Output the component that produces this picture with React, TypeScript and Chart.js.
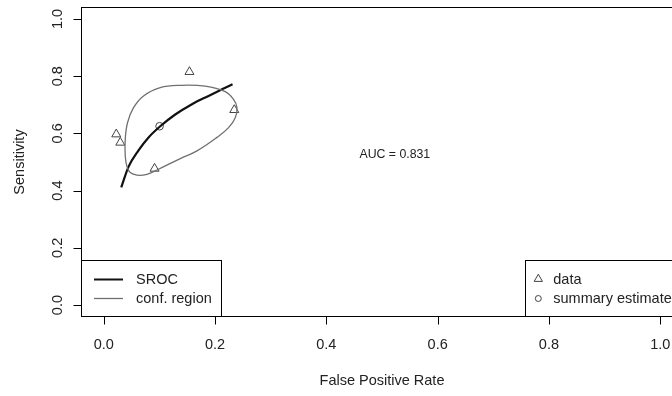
import React, { useEffect, useRef } from "react";
import { Chart, registerables } from "chart.js";

Chart.register(...registerables);

// ---- data ----
const X_TICKS = [0, 0.2, 0.4, 0.6, 0.8, 1.0];
const X_TICK_LABELS = ["0.0", "0.2", "0.4", "0.6", "0.8", "1.0"];
const Y_TICKS = [0, 0.2, 0.4, 0.6, 0.8, 1.0];
const Y_TICK_LABELS = ["0.0", "0.2", "0.4", "0.6", "0.8", "1.0"];

const DATA_FPR = [0.154, 0.2345, 0.0225, 0.0297, 0.0913];
const DATA_SENS = [0.815, 0.682, 0.597, 0.568, 0.477];

const SUMMARY_FPR = [0.1003];
const SUMMARY_SENS = [0.625];

const SROC_FPR = [0.0314, 0.0446, 0.0625, 0.0805, 0.1015, 0.1285, 0.1585, 0.1883, 0.2124, 0.2314];
const SROC_SENS = [0.411, 0.484, 0.541, 0.586, 0.625, 0.666, 0.702, 0.731, 0.754, 0.772];

// closed loop (first point not repeated)
const REGION_FPR = [0.1675, 0.1375, 0.0956, 0.0776, 0.0597, 0.0476, 0.0417, 0.0386, 0.0386, 0.0428, 0.0535, 0.0715, 0.1015, 0.1375, 0.1824, 0.2183, 0.2332, 0.2394, 0.2363, 0.2243, 0.2034];
const REGION_SENS = [0.539, 0.512, 0.472, 0.457, 0.454, 0.463, 0.484, 0.521, 0.58, 0.638, 0.69, 0.731, 0.76, 0.768, 0.765, 0.746, 0.719, 0.69, 0.655, 0.62, 0.586];

const AUC_TEXT = "AUC = 0.831";
const AUC_POS = [0.523, 0.525];
const X_TITLE = "False Positive Rate";
const Y_TITLE = "Sensitivity";
const LEFT_LEGEND = ["SROC", "conf. region"];
const RIGHT_LEGEND = ["data", "summary estimate"];

const zip = (xs: number[], ys: number[]) => xs.map((x, i) => ({ x, y: ys[i] }));

// wrap the loop so the spline is smooth where it closes
const loopPts = zip(REGION_FPR, REGION_SENS);
const M = loopPts.length;
const wrappedLoop = [loopPts[M - 1], ...loopPts, loopPts[0], loopPts[1]];

const FONT = '"Liberation Sans", Arial, Helvetica, sans-serif';
const TEXT_COLOR = "#222";
const SROC_COLOR = "#111";
const REGION_COLOR = "#707070";
const POINT_COLOR = "#444";

const decorPlugin = {
  id: "rdecor",
  beforeDraw(chart: any) {
    const ctx = chart.ctx;
    ctx.save();
    ctx.fillStyle = "#fff";
    ctx.fillRect(0, 0, chart.width, chart.height);
    ctx.restore();
  },
  afterDraw(chart: any) {
    const ctx = chart.ctx as CanvasRenderingContext2D;
    const { left, top, right, bottom } = chart.chartArea;
    const xs = chart.scales.x;
    const ys = chart.scales.y;
    ctx.save();
    ctx.strokeStyle = "#000";
    ctx.lineWidth = 1;
    // box
    ctx.strokeRect(left, top, right - left, bottom - top);

    // x axis
    const x0 = xs.getPixelForValue(X_TICKS[0]);
    const x1 = xs.getPixelForValue(X_TICKS[X_TICKS.length - 1]);
    ctx.beginPath();
    ctx.moveTo(x0, bottom);
    ctx.lineTo(x1, bottom);
    X_TICKS.forEach((t) => {
      const px = Math.round(xs.getPixelForValue(t)) + 0.5;
      ctx.moveTo(px, bottom);
      ctx.lineTo(px, bottom + 8);
    });
    // y axis
    const y0 = ys.getPixelForValue(Y_TICKS[0]);
    const y1 = ys.getPixelForValue(Y_TICKS[Y_TICKS.length - 1]);
    ctx.moveTo(left, y0);
    ctx.lineTo(left, y1);
    Y_TICKS.forEach((t) => {
      const py = Math.round(ys.getPixelForValue(t)) + 0.5;
      ctx.moveTo(left, py);
      ctx.lineTo(left - 8, py);
    });
    ctx.stroke();

    ctx.fillStyle = TEXT_COLOR;
    ctx.font = `14.5px ${FONT}`;
    ctx.textAlign = "center";
    ctx.textBaseline = "alphabetic";
    X_TICKS.forEach((t, i) => {
      ctx.fillText(X_TICK_LABELS[i], xs.getPixelForValue(t), 348.5);
    });
    Y_TICKS.forEach((t, i) => {
      ctx.save();
      ctx.translate(61.5, ys.getPixelForValue(t));
      ctx.rotate(-Math.PI / 2);
      ctx.fillText(Y_TICK_LABELS[i], 0, 0);
      ctx.restore();
    });
    // titles
    ctx.fillText(X_TITLE, (left + right) / 2, 385);
    ctx.save();
    ctx.translate(24, (top + bottom) / 2);
    ctx.rotate(-Math.PI / 2);
    ctx.fillText(Y_TITLE, 0, 0);
    ctx.restore();

    // AUC text
    ctx.font = `12.3px ${FONT}`;
    ctx.textBaseline = "middle";
    ctx.fillText(AUC_TEXT, xs.getPixelForValue(AUC_POS[0]), ys.getPixelForValue(AUC_POS[1]));

    // left legend
    const lgTop = 260.5;
    ctx.fillStyle = "#fff";
    ctx.fillRect(left, lgTop, 221.5 - left, bottom - lgTop);
    ctx.strokeStyle = "#000";
    ctx.strokeRect(left, lgTop, 221.5 - left, bottom - lgTop);
    const rowY = [279.5, 298.5];
    ctx.lineCap = "butt";
    ctx.strokeStyle = SROC_COLOR;
    ctx.lineWidth = 2;
    ctx.beginPath();
    ctx.moveTo(94, rowY[0]);
    ctx.lineTo(123, rowY[0]);
    ctx.stroke();
    ctx.strokeStyle = REGION_COLOR;
    ctx.lineWidth = 1.3;
    ctx.beginPath();
    ctx.moveTo(94, rowY[1]);
    ctx.lineTo(123, rowY[1]);
    ctx.stroke();
    ctx.fillStyle = TEXT_COLOR;
    ctx.font = `14.5px ${FONT}`;
    ctx.textAlign = "left";
    ctx.textBaseline = "middle";
    ctx.fillText(LEFT_LEGEND[0], 136, rowY[0]);
    ctx.fillText(LEFT_LEGEND[1], 136, rowY[1]);

    // right legend
    const rl = 525.5;
    ctx.fillStyle = "#fff";
    ctx.fillRect(rl, lgTop, chart.width - rl + 5, bottom - lgTop);
    ctx.strokeStyle = "#000";
    ctx.lineWidth = 1;
    ctx.strokeRect(rl, lgTop, chart.width - rl + 5, bottom - lgTop);
    ctx.strokeStyle = POINT_COLOR;
    // triangle
    const tr = 4.8;
    const tcx = 538.3, tcy = 279;
    ctx.beginPath();
    for (let k = 0; k < 3; k++) {
      const a = (k * 2 * Math.PI) / 3;
      const px = tcx + Math.sin(a) * tr;
      const py = tcy - Math.cos(a) * tr;
      if (k === 0) ctx.moveTo(px, py); else ctx.lineTo(px, py);
    }
    ctx.closePath();
    ctx.stroke();
    ctx.beginPath();
    ctx.arc(538.3, 298.5, 3, 0, Math.PI * 2);
    ctx.stroke();
    ctx.fillStyle = TEXT_COLOR;
    ctx.fillText(RIGHT_LEGEND[0], 553.3, rowY[0]);
    ctx.fillText(RIGHT_LEGEND[1], 553.3, rowY[1]);
    ctx.restore();
  },
};

export default function App() {
  const ref = useRef<HTMLCanvasElement>(null);
  useEffect(() => {
    const canvas = ref.current;
    if (!canvas) return;
    const chart = new Chart(canvas, {
      type: "scatter",
      data: {
        datasets: [
          {
            label: "conf. region",
            data: wrappedLoop,
            showLine: true,
            borderColor: REGION_COLOR,
            borderWidth: 1.3,
            pointRadius: 0,
            tension: 0.4,
            fill: false,
            segment: {
              borderColor: (c: any) =>
                c.p0DataIndex === 0 || c.p0DataIndex > M ? "rgba(0,0,0,0)" : REGION_COLOR,
            },
          },
          {
            label: "SROC",
            data: zip(SROC_FPR, SROC_SENS),
            showLine: true,
            borderColor: SROC_COLOR,
            borderWidth: 2.2,
            pointRadius: 0,
            cubicInterpolationMode: "monotone",
            fill: false,
          },
          {
            label: "data",
            data: zip(DATA_FPR, DATA_SENS),
            showLine: false,
            pointStyle: "triangle",
            pointRadius: 5.2,
            borderColor: POINT_COLOR,
            backgroundColor: "rgba(0,0,0,0)",
            borderWidth: 1,
          },
          {
            label: "summary estimate",
            data: zip(SUMMARY_FPR, SUMMARY_SENS),
            showLine: false,
            pointStyle: "circle",
            pointRadius: 3.8,
            borderColor: POINT_COLOR,
            backgroundColor: "rgba(0,0,0,0)",
            borderWidth: 1,
          },
        ],
      },
      options: {
        animation: false,
        responsive: false,
        maintainAspectRatio: false,
        devicePixelRatio: 1,
        layout: { padding: { left: 81.5, top: 7.5, right: 720 - 682.5, bottom: 396 - 316.5 } },
        scales: {
          x: { type: "linear", min: -0.04, max: 1.04, display: false },
          y: { type: "linear", min: -0.04, max: 1.04, display: false },
        },
        plugins: { legend: { display: false }, tooltip: { enabled: false } },
      },
      plugins: [decorPlugin],
    } as any);
    return () => chart.destroy();
  }, []);
  return (
    <div style={{ position: "fixed", left: 0, top: 0, width: 672, height: 396, overflow: "hidden", background: "#fff" }}>
      <canvas ref={ref} width={720} height={396} style={{ display: "block", width: 720, height: 396 }} />
    </div>
  );
}
